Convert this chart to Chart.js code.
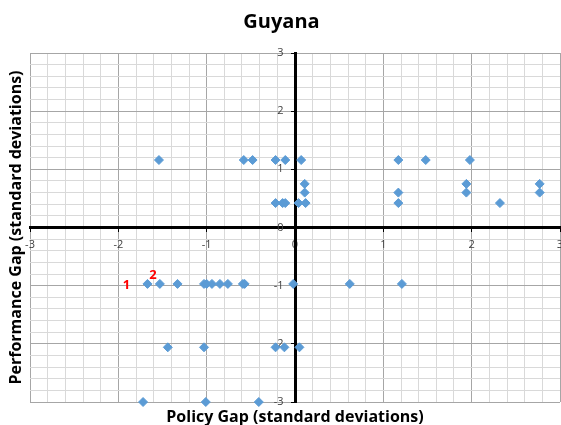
<!DOCTYPE html>
<html>
<head>
<meta charset="utf-8">
<script src="https://cdn.jsdelivr.net/npm/chart.js@4/dist/chart.umd.min.js"></script>
<style>
  body { margin: 0; background: #fff; }
  #wrap { width: 561px; height: 425px; }
</style>
</head>
<body>
<div id="wrap"><canvas id="gap"></canvas></div>
<script>
'use strict';

// policy gap (x) / performance gap (y)
var policyGap = [
  -1.54, -0.58, -0.48, -0.22, -0.11, 0.07, 1.17, 1.48, 1.98,
  0.11, 1.94, 2.77,
  0.11, 1.17, 1.94, 2.77,
  -0.22, -0.14, -0.11, 0.04, 0.12, 1.17, 2.32,
  -1.67, -1.53, -1.33, -1.03, -1.0, -0.94, -0.85, -0.76, -0.59, -0.57, -0.02, 0.62, 1.21,
  -1.44, -1.03, -0.22, -0.12, 0.05,
  -1.72, -1.01, -0.41
];
var performanceGap = [
  1.16, 1.16, 1.16, 1.16, 1.16, 1.16, 1.16, 1.16, 1.16,
  0.75, 0.75, 0.75,
  0.60, 0.60, 0.60, 0.60,
  0.42, 0.42, 0.42, 0.42, 0.42, 0.42, 0.42,
  -0.97, -0.97, -0.97, -0.97, -0.97, -0.97, -0.97, -0.97, -0.97, -0.97, -0.97, -0.97, -0.97,
  -2.06, -2.06, -2.06, -2.06, -2.06,
  -3.0, -3.0, -3.0
];

// highlighted points (red) and their labels
var markX = [-1.67, -1.53];
var markY = [-0.97, -0.97];
var markLabels = ['1', '2'];

var axisTicks = [-3, -2, -1, 0, 1, 2, 3];

function toPoints(xs, ys) {
  var pts = [];
  for (var i = 0; i < xs.length; i++) pts.push({x: xs[i], y: ys[i]});
  return pts;
}

function isMajor(v) {
  return Math.abs(v - Math.round(v)) < 1e-6;
}

function fifthTicks(scale) {
  var t = [];
  for (var i = -15; i <= 15; i++) t.push({value: i / 5});
  scale.ticks = t;
}

// centred axes should not push the plot area in
function noPadding(scale) {
  scale.paddingLeft = 0;
  scale.paddingRight = 0;
  scale.paddingTop = 0;
  scale.paddingBottom = 0;
}

//紅色標籤
var markLabelPlugin = {
  id: 'markLabels',
  afterDatasetsDraw: function(chart) {
    var meta = chart.getDatasetMeta(1);
    var offs = [[-21, 1], [-7, -9]];
    var ctx = chart.ctx;
    ctx.save();
    ctx.font = 'bold 13px "Open Sans"';
    ctx.fillStyle = '#ff0000';
    ctx.textAlign = 'center';
    ctx.textBaseline = 'middle';
    meta.data.forEach(function(pt, i) {
      ctx.fillText(markLabels[i], pt.x + offs[i][0], pt.y + offs[i][1]);
    });
    ctx.restore();
  }
};

var tickFont = {family: '"Open Sans"', size: 11};
var gridOpts = {
  color: function(c) { return isMajor(c.tick.value) ? '#a6a6a6' : '#d9d9d9'; },
  tickColor: function(c) { return isMajor(c.tick.value) ? '#000' : 'rgba(0,0,0,0)'; },
  tickLength: 3,
  lineWidth: 1
};

new Chart(document.getElementById('gap'), {
  type: 'scatter',
  data: {
    datasets: [{
      data: toPoints(policyGap, performanceGap),
      pointStyle: 'rectRot',
      pointRadius: 4.5,
      pointHoverRadius: 4.5,
      backgroundColor: '#5b9bd5',
      borderColor: '#5b9bd5',
      borderWidth: 1,
      clip: false,
      xAxisID: 'x',
      yAxisID: 'y'
    }, {
      data: toPoints(markX, markY),
      pointStyle: 'rectRot',
      pointRadius: 3,
      pointHoverRadius: 3,
      backgroundColor: '#ff0000',
      borderColor: '#ff0000',
      borderWidth: 0,
      clip: false,
      xAxisID: 'x',
      yAxisID: 'y'
    }]
  },
  options: {
    responsive: true,
    maintainAspectRatio: false,
    animation: false,
    events: [],
    layout: { autoPadding: false, padding: {left: 3, right: 1, top: 0, bottom: 0} },
    plugins: {
      legend: { display: false },
      tooltip: { enabled: false },
      title: {
        display: true,
        text: 'Guyana',
        color: '#000',
        font: {family: '"Open Sans"', size: 20, weight: 'bold'},
        padding: {top: 10, bottom: 19}
      }
    },
    scales: {
      x: {
        type: 'linear',
        position: {y: 0},
        min: -3, max: 3,
        afterBuildTicks: fifthTicks,
        afterFit: noPadding,
        ticks: {
          autoSkip: false, maxRotation: 0, padding: 8,
          color: '#404040', font: tickFont,
          callback: function(v) { return isMajor(v) && axisTicks.indexOf(Math.round(v)) >= 0 ? String(Math.round(v)) : ''; }
        },
        grid: gridOpts,
        border: { color: '#000', width: 3 }
      },
      y: {
        type: 'linear',
        position: {x: 0},
        min: -3, max: 3,
        afterBuildTicks: fifthTicks,
        afterFit: noPadding,
        ticks: {
          autoSkip: false, padding: 8,
          color: '#404040', font: tickFont,
          // trailing spaces keep the label off the axis line
          callback: function(v) { return isMajor(v) ? String(Math.round(v)) + '    ' : ''; }
        },
        grid: gridOpts,
        border: { color: '#000', width: 3 }
      },
      xT: {
        type: 'linear', axis: 'x', position: 'bottom',
        min: -3, max: 3,
        afterFit: noPadding,
        ticks: { display: false },
        grid: { display: false, drawTicks: false },
        border: { display: false },
        title: {
          display: true,
          text: 'Policy Gap (standard deviations)',
          color: '#000',
          font: {family: '"Open Sans"', size: 16, weight: 'bold', lineHeight: 1},
          padding: {top: 7, bottom: 0}
        }
      },
      yT: {
        type: 'linear', axis: 'y', position: 'left',
        min: -3, max: 3,
        afterFit: noPadding,
        ticks: { display: false },
        grid: { display: false, drawTicks: false },
        border: { display: false },
        title: {
          display: true,
          text: 'Performance Gap (standard deviations)',
          color: '#000',
          font: {family: '"Open Sans"', size: 16, weight: 'bold', lineHeight: 1},
          padding: {top: 5, bottom: 6}
        }
      }
    }
  },
  plugins: [markLabelPlugin]
});
</script>
</body>
</html>
